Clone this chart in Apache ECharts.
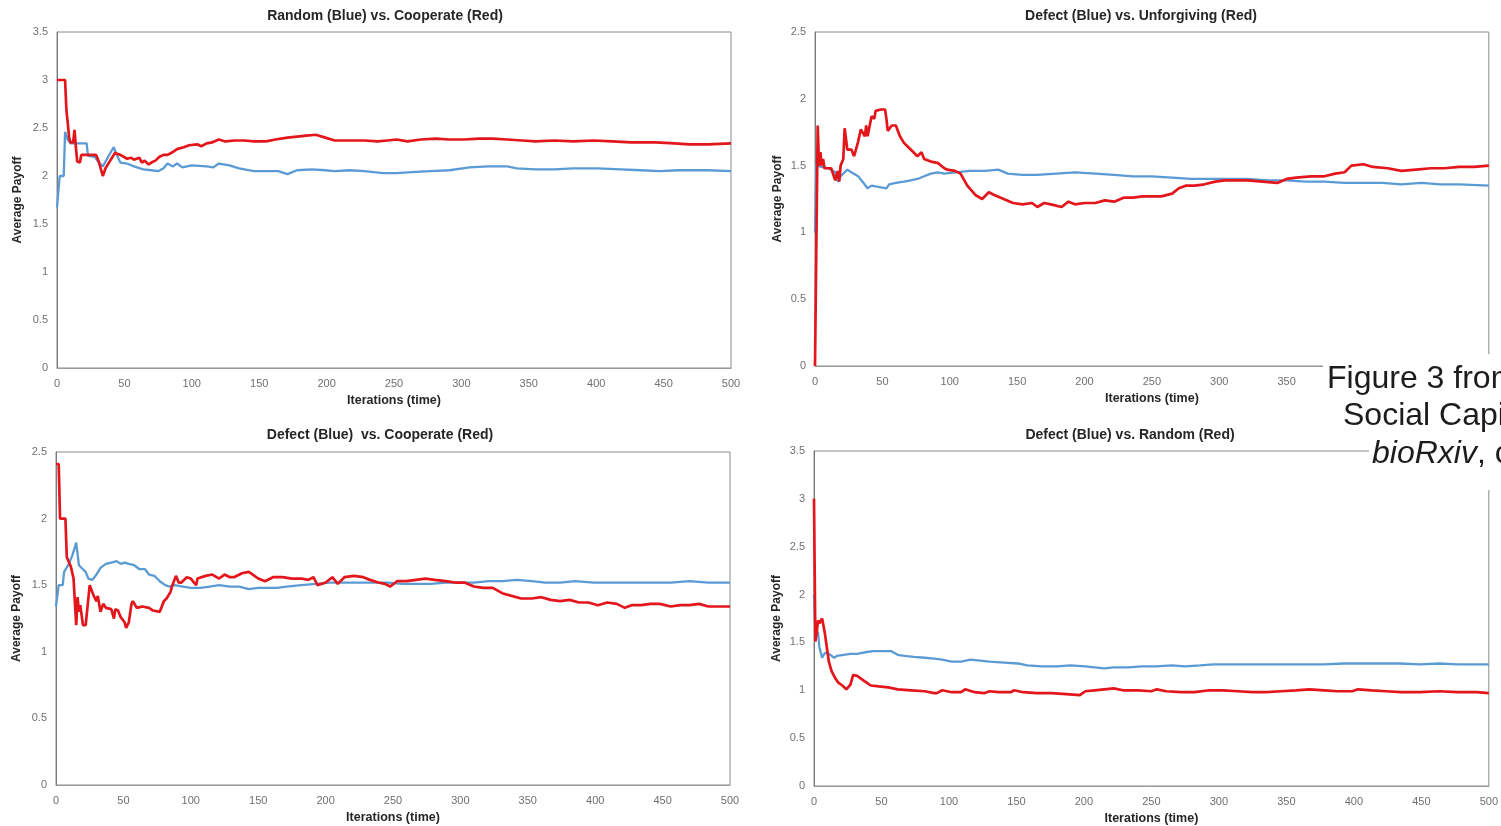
<!DOCTYPE html>
<html><head><meta charset="utf-8">
<script src="https://cdn.jsdelivr.net/npm/echarts@6/dist/echarts.min.js"></script>
<style>html,body{margin:0;padding:0;background:#fff}#c{width:1501px;height:826px}</style>
</head><body><div id="c"></div>
<script>
// ---- titles / labels ----
const titles = ['Random (Blue) vs. Cooperate (Red)', 'Defect (Blue) vs. Unforgiving (Red)', 'Defect (Blue)  vs. Cooperate (Red)', 'Defect (Blue) vs. Random (Red)'];
const xName = 'Iterations (time)';
const yName = 'Average Payoff';
const yMaxes = [3.5, 2.5, 2.5, 3.5];

// ---- Panel 1: Random (Blue) vs Cooperate (Red) ----
const p1BlueX = [0,1,2,5,6,8,10,22,23,28,31,34,38,42,45,47,52,57,64,70,75,79,82,86,89,93,100,111,116,120,128,135,146,157,164,171,178,189,199,206,217,228,242,252,263,277,291,306,320,334,341,355,369,383,401,418,433,447,461,483,500];
const p1BlueY = [1.67,1.67,2.0,2.0,2.46,2.38,2.34,2.34,2.21,2.20,2.14,2.10,2.20,2.30,2.20,2.14,2.13,2.10,2.07,2.06,2.05,2.08,2.13,2.10,2.13,2.09,2.11,2.10,2.09,2.13,2.11,2.08,2.05,2.05,2.05,2.02,2.06,2.07,2.06,2.05,2.06,2.05,2.03,2.03,2.04,2.05,2.06,2.09,2.10,2.10,2.08,2.07,2.07,2.08,2.08,2.07,2.06,2.05,2.06,2.06,2.05];
const p1RedX = [0,6,7,8,9,10,12,13,14,15,17,18,29,31,34,36,39,43,47,52,55,57,61,63,65,68,70,73,76,79,82,86,89,94,98,104,107,111,115,120,125,132,139,146,155,162,171,178,185,192,199,206,217,228,238,245,252,260,270,281,291,302,313,323,334,345,355,369,383,398,412,426,444,458,469,483,500];
const p1RedY = [3.0,3.0,2.68,2.55,2.40,2.35,2.35,2.48,2.30,2.15,2.14,2.22,2.22,2.15,2.00,2.08,2.15,2.24,2.22,2.18,2.19,2.17,2.19,2.14,2.16,2.12,2.14,2.16,2.20,2.22,2.22,2.25,2.28,2.30,2.32,2.33,2.31,2.34,2.35,2.38,2.36,2.37,2.37,2.36,2.36,2.38,2.40,2.41,2.42,2.43,2.40,2.37,2.37,2.37,2.36,2.37,2.38,2.36,2.38,2.39,2.38,2.38,2.39,2.39,2.38,2.37,2.36,2.37,2.36,2.37,2.36,2.35,2.35,2.34,2.33,2.33,2.34];

// ---- Panel 2: Defect (Blue) vs Unforgiving (Red) ----
const p2BlueX = [0,1,5,10,15,17,19,24,27,32,36,39,42,47,53,55,60,66,71,76,81,86,91,96,104,115,126,136,143,154,165,179,193,208,222,236,250,265,279,293,307,321,336,350,364,378,393,407,421,435,450,464,478,500];
const p2BlueY = [1.0,1.50,1.49,1.48,1.45,1.38,1.42,1.47,1.45,1.42,1.37,1.33,1.35,1.34,1.33,1.36,1.37,1.38,1.39,1.40,1.42,1.44,1.45,1.44,1.45,1.46,1.46,1.47,1.44,1.43,1.43,1.44,1.45,1.44,1.43,1.42,1.42,1.41,1.40,1.40,1.40,1.40,1.39,1.39,1.38,1.38,1.37,1.37,1.37,1.36,1.37,1.36,1.36,1.35];
const p2RedX = [0,1,2,3,4,5,6,7,12,15,17,18,19,21,22,24,27,29,32,34,37,38,39,42,44,45,49,52,53,54,57,60,63,66,71,76,79,81,86,91,96,98,104,108,113,119,124,129,133,140,147,154,161,165,170,175,183,188,193,200,208,215,222,229,236,243,250,257,265,270,275,282,289,297,304,311,321,332,343,350,357,368,378,386,393,398,407,414,425,435,446,457,467,478,489,500];
const p2RedY = [0,0,1.80,1.50,1.60,1.50,1.55,1.48,1.48,1.39,1.46,1.38,1.50,1.55,1.78,1.62,1.62,1.57,1.68,1.77,1.72,1.80,1.72,1.87,1.85,1.91,1.92,1.92,1.85,1.76,1.80,1.80,1.72,1.67,1.62,1.57,1.60,1.55,1.53,1.52,1.48,1.47,1.46,1.44,1.35,1.28,1.25,1.30,1.28,1.25,1.22,1.21,1.22,1.19,1.22,1.21,1.19,1.23,1.21,1.22,1.22,1.24,1.23,1.26,1.26,1.27,1.27,1.27,1.29,1.33,1.35,1.35,1.36,1.38,1.39,1.39,1.39,1.38,1.37,1.40,1.41,1.42,1.42,1.44,1.45,1.50,1.51,1.49,1.48,1.46,1.47,1.48,1.48,1.49,1.49,1.50];

// ---- Panel 3: Defect (Blue) vs Cooperate (Red) ----
const p3BlueX = [0,1,2,5,6,9,12,15,17,20,22,24,27,30,33,37,41,45,48,51,54,58,62,66,69,73,77,81,84,88,94,100,107,114,121,129,136,143,150,157,164,171,182,193,203,214,225,235,246,257,267,278,289,299,310,321,331,342,353,363,374,385,399,413,427,441,456,470,484,500];
const p3BlueY = [1.34,1.34,1.50,1.50,1.60,1.65,1.72,1.82,1.65,1.62,1.60,1.55,1.54,1.58,1.63,1.66,1.67,1.68,1.66,1.67,1.66,1.65,1.62,1.62,1.58,1.57,1.53,1.50,1.49,1.50,1.49,1.48,1.48,1.49,1.50,1.49,1.49,1.47,1.48,1.48,1.48,1.49,1.50,1.51,1.52,1.52,1.52,1.52,1.52,1.51,1.51,1.51,1.52,1.52,1.52,1.53,1.53,1.54,1.53,1.52,1.52,1.53,1.52,1.52,1.52,1.52,1.52,1.53,1.52,1.52];
const p3RedX = [0,2,3,7,8,9,11,13,15,16,17,18,20,22,25,26,28,30,31,33,35,37,41,43,44,46,48,51,52,54,56,57,60,64,69,72,77,78,80,82,85,86,89,91,93,97,100,104,105,111,116,121,125,129,132,138,143,146,150,155,161,168,175,182,187,191,194,200,205,209,214,221,228,233,239,244,248,253,260,267,274,281,289,296,303,310,317,324,331,338,345,353,360,367,374,381,388,395,402,409,416,422,427,434,441,448,456,463,470,477,484,491,500];
const p3RedY = [2.41,2.41,2.00,2.00,1.71,1.71,1.64,1.55,1.20,1.41,1.30,1.35,1.20,1.20,1.50,1.50,1.42,1.38,1.42,1.30,1.36,1.33,1.32,1.25,1.32,1.31,1.26,1.22,1.18,1.22,1.36,1.38,1.33,1.34,1.33,1.31,1.30,1.29,1.38,1.40,1.45,1.49,1.57,1.52,1.52,1.56,1.55,1.50,1.55,1.57,1.58,1.55,1.58,1.56,1.56,1.59,1.60,1.58,1.55,1.53,1.56,1.56,1.55,1.55,1.54,1.56,1.50,1.52,1.56,1.51,1.56,1.57,1.56,1.54,1.52,1.51,1.49,1.53,1.53,1.54,1.55,1.54,1.53,1.52,1.52,1.49,1.48,1.48,1.44,1.42,1.40,1.40,1.41,1.39,1.38,1.39,1.37,1.37,1.35,1.37,1.36,1.33,1.35,1.35,1.36,1.36,1.34,1.35,1.35,1.36,1.34,1.34,1.34];

// ---- Panel 4: Defect (Blue) vs Random (Red) ----
const p4BlueX = [0,1,3,4,6,7,8,11,15,17,22,27,32,39,44,49,57,62,67,74,82,89,95,102,109,116,123,130,141,151,158,169,180,190,201,208,215,222,233,243,254,265,275,286,296,307,321,335,349,364,378,392,406,420,434,449,463,477,500];
const p4BlueY = [2.0,1.63,1.60,1.45,1.34,1.32,1.39,1.38,1.34,1.36,1.37,1.38,1.38,1.40,1.41,1.41,1.41,1.37,1.36,1.35,1.34,1.33,1.32,1.30,1.30,1.32,1.31,1.30,1.29,1.28,1.26,1.25,1.25,1.26,1.25,1.24,1.23,1.24,1.24,1.25,1.25,1.26,1.25,1.26,1.27,1.27,1.27,1.27,1.27,1.27,1.27,1.28,1.28,1.28,1.28,1.27,1.28,1.27,1.27];
const p4RedX = [0,1,2,3,4,6,8,10,11,13,16,18,21,24,25,27,29,32,35,39,42,48,55,62,72,82,89,91,95,102,109,112,119,126,130,137,146,148,155,165,176,187,197,201,208,215,222,229,240,250,254,261,272,282,293,303,314,325,335,346,357,367,378,388,399,403,413,424,435,449,463,477,491,500];
const p4RedY = [3.0,1.51,1.60,1.73,1.70,1.75,1.60,1.40,1.30,1.20,1.12,1.08,1.05,1.01,1.00,1.06,1.16,1.15,1.12,1.08,1.05,1.04,1.03,1.01,1.00,0.99,0.97,0.97,1.00,0.98,0.98,1.01,0.98,0.97,0.99,0.98,0.98,1.00,0.98,0.97,0.97,0.96,0.95,0.99,1.00,1.01,1.02,1.00,1.00,0.99,1.01,0.99,0.98,0.98,1.00,1.00,0.99,0.98,0.98,0.99,1.00,1.01,1.00,0.99,0.99,1.01,1.00,0.99,0.98,0.98,0.99,0.98,0.98,0.97];

const BLUE = '#5b9bd5', RED = '#e3161c';
const zip = (xs, ys) => xs.map((x, i) => [x, ys[i]]);

const grids = [
  {left: 57, top: 32, width: 674, height: 336},
  {left: 815, top: 32, width: 675, height: 334},
  {left: 56, top: 452, width: 674, height: 333},
  {left: 814, top: 451, width: 676, height: 335}
];
const titlePos = [[385, 16], [1141, 16], [380, 435], [1130, 435]];

const SANS = '"Liberation Sans", Arial, sans-serif';

const xAxes = grids.map((g, i) => ({
  type: 'value', gridIndex: i, min: 0, max: 500, interval: 50,
  name: xName, nameLocation: 'middle', nameGap: 26,
  nameTextStyle: {fontFamily: SANS, fontWeight: 'bold', fontSize: 12.5, color: '#262626'},
  axisLine: {show: true, lineStyle: {color: '#9a9a9a', width: 1}},
  axisTick: {show: false}, splitLine: {show: false},
  axisLabel: {fontFamily: SANS, fontSize: 11, color: '#707070', margin: 10}
}));
const yAxes = grids.map((g, i) => ({
  type: 'value', gridIndex: i, min: 0, max: yMaxes[i], interval: 0.5,
  name: yName, nameLocation: 'middle', nameGap: i % 2 === 0 ? 33 : 31,
  nameTextStyle: {fontFamily: SANS, fontWeight: 'bold', fontSize: 12, color: '#262626'},
  axisLine: {show: true, lineStyle: {color: '#7a7a7a', width: 1}},
  axisTick: {show: false}, splitLine: {show: false},
  axisLabel: {fontFamily: SANS, fontSize: 11, color: '#707070', margin: 9}
}));

const pairs = [
  [zip(p1BlueX, p1BlueY), zip(p1RedX, p1RedY)],
  [zip(p2BlueX, p2BlueY), zip(p2RedX, p2RedY)],
  [zip(p3BlueX, p3BlueY), zip(p3RedX, p3RedY)],
  [zip(p4BlueX, p4BlueY), zip(p4RedX, p4RedY)]
];
const series = [];
pairs.forEach((p, i) => {
  series.push({type: 'line', xAxisIndex: i, yAxisIndex: i, data: p[0], showSymbol: false, symbol: 'none',
    lineStyle: {color: BLUE, width: 2.3}, z: 2, animation: false});
  series.push({type: 'line', xAxisIndex: i, yAxisIndex: i, data: p[1], showSymbol: false, symbol: 'none',
    lineStyle: {color: RED, width: 2.7}, z: 3, animation: false});
});

const graphic = [];
titles.forEach((t, i) => {
  graphic.push({type: 'text', x: titlePos[i][0], y: titlePos[i][1], z: 10,
    style: {text: t, textAlign: 'center', textVerticalAlign: 'middle', fontFamily: SANS, fontWeight: 'bold', fontSize: 14, fill: '#262626'}});
});
// caption overlay (white boxes + text) in lower-right region
graphic.push({type: 'rect', shape: {x: 1323, y: 354, width: 178, height: 92}, style: {fill: '#ffffff'}, z: 50});
graphic.push({type: 'rect', shape: {x: 1369, y: 440, width: 132, height: 50}, style: {fill: '#ffffff'}, z: 50});
graphic.push({type: 'text', x: 1327, y: 379, z: 60, style: {text: 'Figure 3 from', textVerticalAlign: 'middle', fontFamily: SANS, fontSize: 32, fill: '#1c1c1c'}});
graphic.push({type: 'text', x: 1343, y: 416, z: 60, style: {text: 'Social Capital', textVerticalAlign: 'middle', fontFamily: SANS, fontSize: 32, fill: '#1c1c1c'}});
graphic.push({type: 'text', x: 1372, y: 454, z: 60, style: {text: '{i|bioRxiv}, c', textVerticalAlign: 'middle', fontFamily: SANS, fontSize: 32, fill: '#1c1c1c',
  rich: {i: {fontStyle: 'italic', fontFamily: SANS, fontSize: 32, fill: '#1c1c1c'}}}});

const chart = echarts.init(document.getElementById('c'), null, {renderer: 'canvas'});
chart.setOption({
  backgroundColor: '#ffffff',
  animation: false,
  grid: grids.map(g => Object.assign({show: true, borderColor: '#8a8a8a', borderWidth: 1, backgroundColor: 'transparent'}, g)),
  xAxis: xAxes,
  yAxis: yAxes,
  series: series,
  graphic: graphic
});
</script></body></html>
